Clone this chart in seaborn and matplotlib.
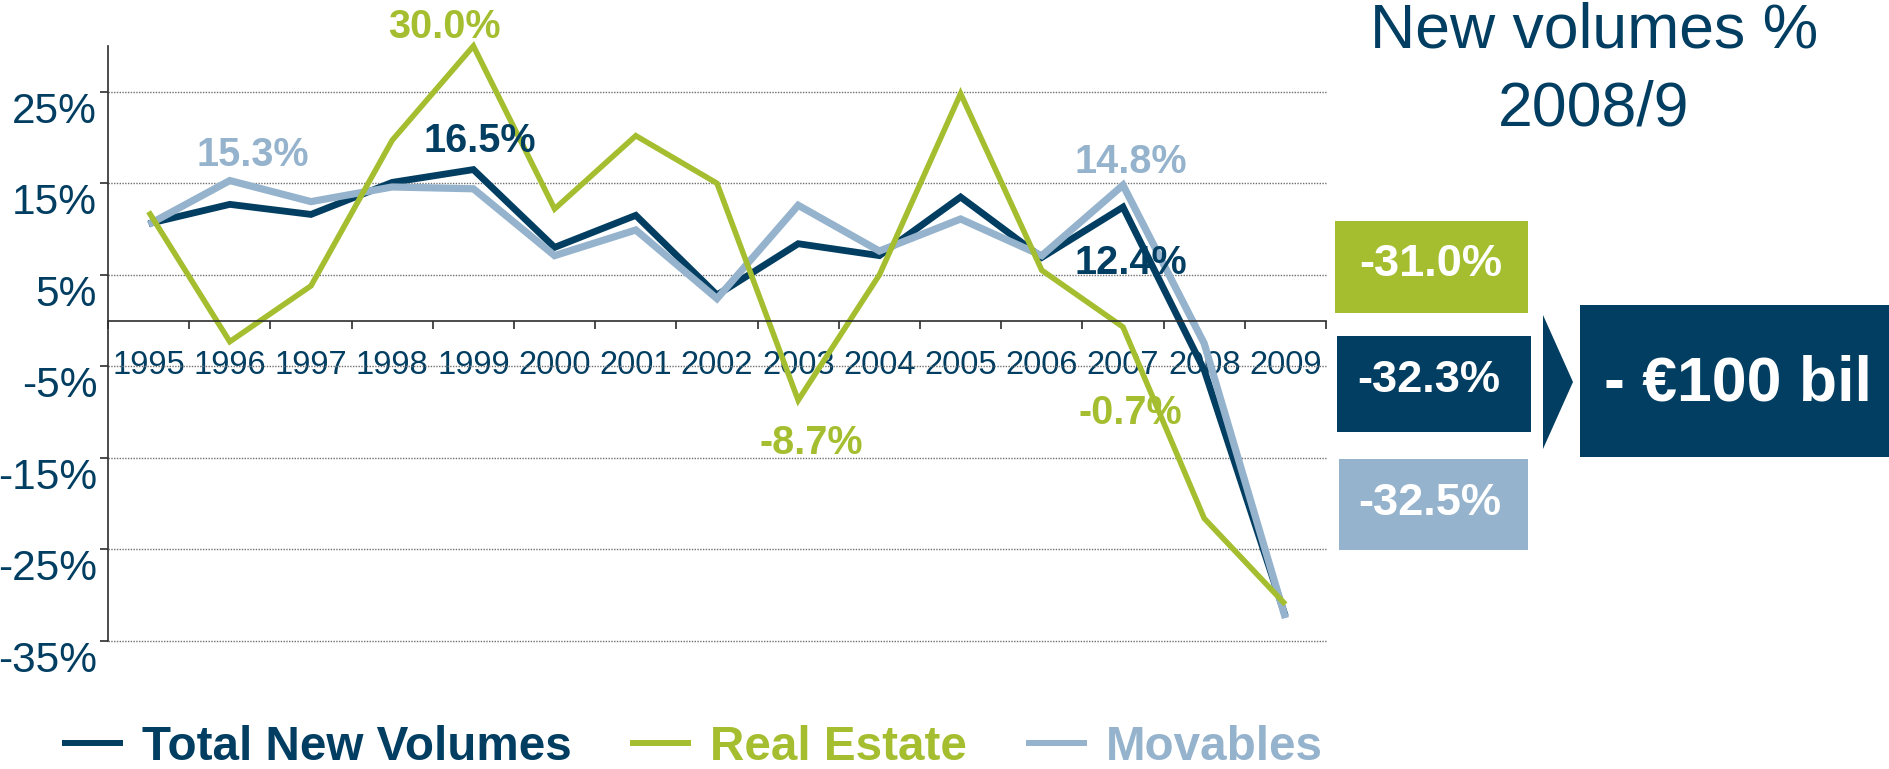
import numpy as np
import pandas as pd
import matplotlib
matplotlib.use("Agg")
import matplotlib.pyplot as plt
from matplotlib.patches import Rectangle, Polygon
import seaborn as sns

# ---------------- data ----------------
years = list(range(1995, 2010))
total_new_volumes = [10.6, 12.7, 11.6, 15.1, 16.5, 8.0, 11.5, 2.8, 8.4, 7.1, 13.5, 6.9, 12.4, -5.4, -32.3]
real_estate = [11.9, -2.3, 3.8, 19.7, 30.0, 12.2, 20.2, 15.0, -8.7, 5.0, 24.8, 5.5, -0.7, -21.6, -31.0]
movables = [10.5, 15.3, 13.0, 14.6, 14.4, 7.1, 9.9, 2.4, 12.6, 7.6, 11.1, 7.1, 14.8, -2.5, -32.5]
series_names = ["Total New Volumes", "Real Estate", "Movables"]
y_ticks = [25, 15, 5, -5, -15, -25, -35]
y_tick_labels = ["25%", "15%", "5%", "-5%", "-15%", "-25%", "-35%"]
change_labels = ["-31.0%", "-32.3%", "-32.5%"]
total_label = "- €100 bil"
title_lines = ["New volumes %", "2008/9"]

NAVY = "#023E61"
GREEN = "#A4BE30"
LIGHT = "#95B3CC"
colors = {"Total New Volumes": NAVY, "Real Estate": GREEN, "Movables": LIGHT}
widths = {"Total New Volumes": 4.9, "Real Estate": 4.0, "Movables": 5.2}

df = pd.DataFrame({
    "Year": years * 3,
    "Value": total_new_volumes + real_estate + movables,
    "Series": [series_names[0]] * 15 + [series_names[1]] * 15 + [series_names[2]] * 15,
})

# ---------------- figure ----------------
sns.set_style("white")
plt.rcParams["font.family"] = ["Liberation Sans", "DejaVu Sans"]

W, H = 1890, 769
fig = plt.figure(figsize=(W / 100, H / 100), dpi=100)

def fx(x):
    return x / W

def fy(y):
    return 1 - y / H

ax = fig.add_axes([fx(108), fy(641), (1326 - 108) / W, (641 - 46) / H])

draw_order = ["Total New Volumes", "Movables", "Real Estate"]
sns.lineplot(data=df, x="Year", y="Value", hue="Series", hue_order=draw_order,
             palette=colors, ax=ax, legend=True, estimator=None, sort=False)
for line, name in zip(ax.lines, draw_order):
    line.set_linewidth(widths[name])
    line.set_solid_joinstyle("miter")
    line.set_solid_capstyle("butt")
    line.set_clip_on(False)

ax.set_xlim(1994.5, 2009.5)
ax.set_ylim(-35, 30)
ax.set_xlabel("")
ax.set_ylabel("")

# spines
for s in ["top", "right"]:
    ax.spines[s].set_visible(False)
ax.spines["bottom"].set_position(("data", 0))
for s in ["left", "bottom"]:
    ax.spines[s].set_color("#2e2e2e")
    ax.spines[s].set_linewidth(1.2)

# x ticks: boundaries (major) + year labels (minor)
ax.set_xticks(np.arange(1994.5, 2010.0, 1.0))
ax.set_xticklabels([])
ax.set_xticks(years, minor=True)
ax.set_xticklabels([str(y) for y in years], minor=True)
ax.tick_params(axis="x", which="major", bottom=True, direction="out", length=5.8,
               width=1.2, color="#2e2e2e")
ax.tick_params(axis="x", which="minor", bottom=True, length=0, pad=21.0,
               labelsize=23.5, labelcolor=NAVY)

# y ticks
ax.set_yticks(y_ticks, y_tick_labels, va="top")
ax.tick_params(axis="y", which="major", left=True, direction="out", length=5.8,
               width=1.2, color="#2e2e2e", pad=2.0, labelsize=30.5, labelcolor=NAVY)

ax.set_axisbelow(True)
ax.yaxis.grid(True, color="#6f6f6f", linestyle=(0, (1, 1)), linewidth=1.0)
ax.xaxis.grid(False)
for gl in ax.yaxis.get_gridlines():
    gl.set_clip_on(False)

# value annotations (series, year, dx px, dy px)
ann = [
    ("Real Estate", 1999, -28.6, 8.4),
    ("Total New Volumes", 1999, 6.4, 17.9),
    ("Movables", 1996, 22.7, 14.2),
    ("Movables", 2007, 8.0, 11.8),
    ("Total New Volumes", 2007, 8.0, -66.5),
    ("Real Estate", 2003, 13.3, -53.4),
    ("Real Estate", 2007, 7.5, -96.6),
]
lookup = {"Total New Volumes": total_new_volumes, "Real Estate": real_estate,
          "Movables": movables}
for name, yr, dx, dy in ann:
    v = lookup[name][years.index(yr)]
    ax.annotate(f"{v:.1f}%", xy=(yr, v), xytext=(dx, dy), textcoords="offset pixels",
                ha="center", va="baseline", fontsize=28.5, fontweight="bold",
                color=colors[name], annotation_clip=False)

# legend
handles, labels = ax.get_legend_handles_labels()
hmap = dict(zip(labels, handles))
leg = ax.legend([hmap[n] for n in series_names], series_names, ncol=3, frameon=False,
                loc="center left", bbox_to_anchor=(fx(62), fy(747.6)),
                bbox_transform=fig.transFigure, borderpad=0, borderaxespad=0,
                handlelength=1.28, handletextpad=0.4, columnspacing=1.23,
                prop=dict(family="Liberation Sans", weight="bold", size=34.3),
                labelcolor="linecolor")
for lh in leg.legend_handles:
    lh.set_linewidth(4.3)
    lh.set_solid_capstyle("butt")

# title
fig.text(fx(1594), fy(47), title_lines[0], ha="center", va="baseline",
         fontsize=45, color=NAVY)
fig.text(fx(1594), fy(125), title_lines[1], ha="center", va="baseline",
         fontsize=45, color=NAVY)

# change boxes
boxes = [
    (1335, 221, 1528, 313, GREEN, 1431, 276),
    (1337, 336, 1531, 432, NAVY, 1429, 391.7),
    (1339, 459, 1528, 550, LIGHT, 1430, 515),
]
for (x0, y0, x1, y1, c, tx, ty), lab in zip(boxes, change_labels):
    fig.add_artist(Rectangle((fx(x0), fy(y1)), (x1 - x0) / W, (y1 - y0) / H,
                             transform=fig.transFigure, facecolor=c, edgecolor="none"))
    fig.text(fx(tx), fy(ty), lab, ha="center", va="baseline", fontsize=32.5,
             fontweight="bold", color="white")

# chevron and total box
fig.add_artist(Polygon([(fx(1543), fy(315)), (fx(1573), fy(382)), (fx(1543), fy(449))],
                       closed=True, transform=fig.transFigure, facecolor=NAVY,
                       edgecolor="none"))
fig.add_artist(Rectangle((fx(1580), fy(457)), (1890 - 1580) / W, (457 - 305) / H,
                         transform=fig.transFigure, facecolor=NAVY, edgecolor="none"))
fig.text(fx(1738), fy(400), total_label, ha="center", va="baseline", fontsize=45,
         fontweight="bold", color="white")

fig.savefig("out.png", dpi=100, facecolor="white")
